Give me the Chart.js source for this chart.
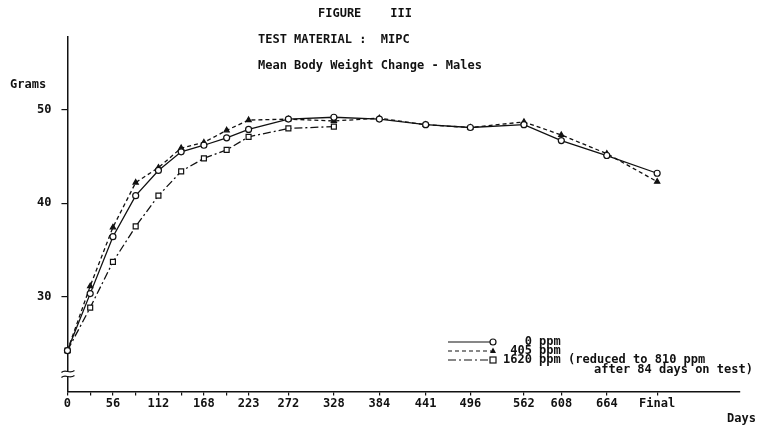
<!DOCTYPE html>
<html>
<head>
<meta charset="utf-8">
<script src="https://cdn.jsdelivr.net/npm/chart.js@4/dist/chart.umd.min.js"></script>
<style>
  html, body { margin: 0; padding: 0; background: #fff; }
  canvas { display: block; }
</style>
</head>
<body>
<canvas id="c" width="775" height="425"></canvas>
<script>
// Weighing days (the last weighing is plotted as "Final")
const days = [0, 28, 56, 84, 112, 140, 168, 196, 223, 272, 328, 384, 441, 496, 562, 608, 664, 726];

// Mean body weight (grams) per dose group
const ppm0    = [24.2, 30.3, 36.4, 40.8, 43.5, 45.5, 46.2, 47.0, 47.9, 49.0, 49.2, 49.0, 48.4, 48.1, 48.4, 46.7, 45.1, 43.2];
const ppm405  = [24.2, 31.1, 37.4, 42.2, 43.8, 45.9, 46.5, 47.8, 48.9, 49.0, 48.8, 49.1, 48.4, 48.1, 48.7, 47.3, 45.3, 42.3];
const ppm1620 = [24.2, 28.8, 33.7, 37.5, 40.8, 43.4, 44.8, 45.7, 47.1, 48.0, 48.2];

// Axis ticks
const tickDays   = [0, 28, 56, 84, 112, 140, 168, 196, 223, 272, 328, 384, 441, 496, 562, 608, 664, 726];
const tickLabels = ['0', '', '56', '', '112', '', '168', '', '223', '272', '328', '384', '441', '496', '562', '608', '664', 'Final'];
const yTicks = [30, 40, 50];

// Key entries, padded so the "ppm" columns line up in the monospaced font
const seriesNames = ['   0 ppm', ' 405 ppm', '1620 ppm (reduced to 810 ppm'];
const keyNote = 'after 84 days on test)';

const FONT = '"DejaVu Sans Mono", "Liberation Mono", monospace';
const INK = '#111';

const toPoints = vals => vals.map((v, i) => ({ x: days[i], y: v }));

function drawMarker(ctx, style, x, y) {
  ctx.save();
  ctx.setLineDash([]);
  ctx.lineWidth = 1.2;
  ctx.strokeStyle = INK;
  if (style === 'circle') {
    ctx.fillStyle = '#fff';
    ctx.beginPath(); ctx.arc(x, y, 3, 0, Math.PI * 2); ctx.fill(); ctx.stroke();
  } else if (style === 'triangle') {
    ctx.fillStyle = INK;
    ctx.beginPath(); ctx.moveTo(x, y - 3.5); ctx.lineTo(x + 3, y + 2); ctx.lineTo(x - 3, y + 2); ctx.closePath(); ctx.fill();
  } else {
    ctx.fillStyle = '#fff';
    ctx.fillRect(x - 3, y - 3, 6, 6); ctx.strokeRect(x - 3, y - 3, 6, 6);
  }
  ctx.restore();
}

const dashes = [[], [4, 3], [8, 3, 2, 3]];
const markers = ['circle', 'triangle', 'rect'];

// Titles, axis captions, the axis break and the key
const annotations = {
  id: 'annotations',
  afterDraw(chart) {
    const ctx = chart.ctx;
    const area = chart.chartArea;
    ctx.save();
    ctx.fillStyle = INK;
    ctx.font = 'bold 12px ' + FONT;
    ctx.textBaseline = 'middle';
    ctx.textAlign = 'left';
    ctx.fillText('FIGURE    III', 318, 14);
    ctx.fillText('TEST MATERIAL :  MIPC', 258, 40);
    ctx.fillText('Mean Body Weight Change - Males', 258, 66);
    ctx.fillText('Grams', 10, 85);
    ctx.fillText('Days', 727, 419);

    // axis break on the vertical axis
    ctx.strokeStyle = INK;
    ctx.lineWidth = 1.2;
    const bx = area.left, by = 374;
    ctx.fillStyle = '#fff';
    ctx.fillRect(bx - 2, by - 2, 4, 4);
    [-2.5, 2.5].forEach(dy => {
      ctx.beginPath();
      ctx.moveTo(bx - 6, by + dy + 1);
      ctx.bezierCurveTo(bx - 2, by + dy - 3, bx + 2, by + dy + 3, bx + 7, by + dy - 1);
      ctx.stroke();
    });

    // key
    const rows = [342, 351, 360];
    rows.forEach((ry, i) => {
      ctx.save();
      ctx.strokeStyle = INK;
      ctx.lineWidth = 1.2;
      ctx.setLineDash(dashes[i]);
      ctx.beginPath(); ctx.moveTo(448, ry); ctx.lineTo(491, ry); ctx.stroke();
      ctx.restore();
      drawMarker(ctx, markers[i], 493, ry);
      ctx.fillStyle = INK;
      ctx.fillText(seriesNames[i], 503, ry);
    });
    ctx.fillText(keyNote, 594, 370);
    ctx.restore();
  }
};

const dsCommon = {
  borderColor: INK,
  borderWidth: 1.3,
  tension: 0,
  pointBorderColor: INK,
  pointBorderWidth: 1.2,
  pointHoverRadius: 3,
  fill: false,
  clip: false
};

new Chart(document.getElementById('c'), {
  type: 'line',
  data: {
    datasets: [
      Object.assign({}, dsCommon, {
        label: seriesNames[0].trim(), data: toPoints(ppm0), order: 0,
        pointStyle: 'circle', pointRadius: 3, pointBackgroundColor: '#fff'
      }),
      Object.assign({}, dsCommon, {
        label: seriesNames[1].trim(), data: toPoints(ppm405), order: 1, borderDash: dashes[1],
        pointStyle: 'triangle', pointRadius: 3, pointBackgroundColor: INK
      }),
      Object.assign({}, dsCommon, {
        label: seriesNames[2], data: toPoints(ppm1620), order: 2, borderDash: dashes[2],
        pointStyle: 'rect', pointRadius: 3.5, pointBackgroundColor: '#fff'
      })
    ]
  },
  options: {
    responsive: false,
    devicePixelRatio: 1,
    animation: false,
    events: [],
    layout: { padding: { left: 27, right: 35, top: 37, bottom: 13 } },
    plugins: { legend: { display: false }, title: { display: false }, tooltip: { enabled: false } },
    scales: {
      x: {
        type: 'linear', min: 0, max: 828,
        afterBuildTicks: s => { s.ticks = tickDays.map(v => ({ value: v })); },
        grid: { drawOnChartArea: false, tickLength: 4, color: INK, lineWidth: 1.2 },
        border: { color: INK, width: 1.5 },
        ticks: {
          autoSkip: false, maxRotation: 0, padding: 1, color: INK,
          font: { family: FONT, size: 12, weight: 'bold' },
          callback: (v, i) => tickLabels[i]
        }
      },
      y: {
        type: 'linear', min: 19.8, max: 57.8,
        afterBuildTicks: s => { s.ticks = yTicks.map(v => ({ value: v })); },
        grid: { drawOnChartArea: false, tickLength: 6, color: INK, lineWidth: 1.2 },
        border: { color: INK, width: 1.5 },
        ticks: {
          padding: 10, color: INK,
          font: { family: FONT, size: 12, weight: 'bold' }
        }
      }
    }
  },
  plugins: [annotations]
});
</script>
</body>
</html>
